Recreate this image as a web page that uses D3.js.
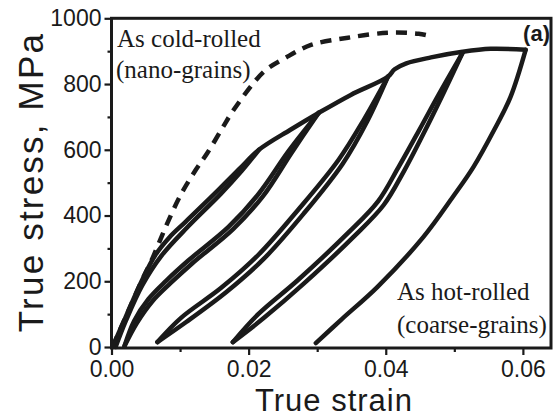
<!DOCTYPE html>
<html>
<head>
<meta charset="utf-8">
<script src="https://cdn.jsdelivr.net/npm/d3@7"></script>
<style>
  body { margin: 0; background: #fff; }
  svg { display: block; }
</style>
</head>
<body>
<div id="chart"><svg width="558" height="417"></svg></div>
<script>
// [strain, stress MPa]
const envelope = [
  [0.00015, 0], [0.0020, 88], [0.0044, 201], [0.0064, 280], [0.0085, 335],
  [0.0108, 381], [0.0156, 478], [0.0188, 545], [0.0215, 600], [0.0261, 661],
  [0.0302, 712], [0.0349, 767], [0.0403, 822], [0.0413, 845], [0.0430, 863],
  [0.0466, 881], [0.0512, 898], [0.0553, 907], [0.0604, 904]
];
const finalUnload = [
  [0.0604, 904], [0.0582, 761], [0.0558, 660], [0.0528, 548], [0.0498, 457],
  [0.0455, 335], [0.0388, 183], [0.0336, 85], [0.0298, 12]
];
const loop1 = [
  [0.0215, 600], [0.0190, 536], [0.0159, 465], [0.0111, 365], [0.0073, 278],
  [0.0045, 188], [0.0021, 80], [0.0006, 0]
];
const loop2a = [
  [0.0019, 3], [0.0037, 73], [0.0060, 140], [0.0086, 194], [0.0118, 255],
  [0.0177, 358], [0.0221, 459], [0.0263, 592], [0.0302, 712]
];
const loop2b = [
  [0.0019, 3], [0.0033, 79], [0.0054, 146], [0.0080, 202], [0.0112, 263],
  [0.0171, 366], [0.0215, 467], [0.0259, 598], [0.0302, 712]
];
const loop3a = [
  [0.0067, 15], [0.0109, 76], [0.0168, 168], [0.0222, 268], [0.0280, 405],
  [0.0337, 557], [0.0373, 687], [0.0403, 822]
];
const loop3b = [
  [0.0067, 15], [0.0101, 88], [0.0160, 180], [0.0214, 280], [0.0272, 417],
  [0.0331, 569], [0.0369, 695], [0.0403, 822]
];
const loop4a = [
  [0.0177, 15], [0.0222, 88], [0.0280, 192], [0.0353, 335], [0.0397, 432],
  [0.0426, 533], [0.0454, 645], [0.0482, 763], [0.0512, 895]
];
const loop4b = [
  [0.0177, 15], [0.0214, 100], [0.0272, 204], [0.0345, 347], [0.0389, 444],
  [0.0418, 545], [0.0448, 657], [0.0478, 771], [0.0512, 895]
];
const coldRolled = [
  [0.00015, 0], [0.0020, 88], [0.0044, 201], [0.0060, 271], [0.0079, 365],
  [0.0101, 463], [0.0123, 539], [0.0140, 591], [0.0162, 667], [0.0178, 721],
  [0.0222, 837], [0.0254, 880], [0.0291, 919], [0.0345, 941], [0.0404, 956],
  [0.0448, 953], [0.0463, 947]
];
const xMajor = [0, 0.02, 0.04, 0.06];
const xMinor = [0.01, 0.03, 0.05];
const yMajor = [0, 200, 400, 600, 800, 1000];
const yMinor = [100, 300, 500, 700, 900];

const svg = d3.select('#chart svg');
const plotLeft = 111.5, plotRight = 551, plotTop = 18.3, plotBottom = 348;

const x = d3.scaleLinear().domain([0, 0.0641]).range([plotLeft, plotRight]);
const y = d3.scaleLinear().domain([-3, 1000]).range([plotBottom, plotTop]);

const line = d3.line()
  .x(d => x(d[0]))
  .y(d => y(d[1]))
  .curve(d3.curveCatmullRom.alpha(0.5));

const gCurves = svg.append('g')
  .attr('fill', 'none')
  .attr('stroke', '#1a1a1a')
  .attr('stroke-width', 4.5)
  .attr('stroke-linejoin', 'round')
  .attr('stroke-linecap', 'round');

[envelope, finalUnload, loop1, loop2a, loop2b, loop3a, loop3b, loop4a, loop4b]
  .forEach(c => gCurves.append('path').attr('d', line(c)));

gCurves.append('path')
  .attr('d', line(coldRolled))
  .attr('stroke-dasharray', '11,8')
  .attr('stroke-linecap', 'butt');

// axes
const sans = 'Liberation Sans, Arial, sans-serif';
function styleAxis(g) {
  g.select('.domain').remove();
  g.selectAll('line').attr('stroke', '#1a1a1a').attr('stroke-width', 2.2);
  g.selectAll('text').attr('font-family', sans).attr('font-size', 23).attr('fill', '#1a1a1a');
}

svg.append('g').attr('transform', `translate(0,${plotBottom})`)
  .call(d3.axisBottom(x).tickValues(xMajor).tickSize(7).tickPadding(6).tickFormat(d3.format('.2f')))
  .call(styleAxis);
svg.append('g').attr('transform', `translate(0,${plotBottom})`)
  .call(d3.axisBottom(x).tickValues(xMinor).tickSize(4).tickFormat(''))
  .call(styleAxis);
svg.append('g').attr('transform', `translate(${plotLeft},0)`)
  .call(d3.axisLeft(y).tickValues(yMajor).tickSize(7).tickPadding(3).tickFormat(d3.format('d')))
  .call(styleAxis);
svg.append('g').attr('transform', `translate(${plotLeft},0)`)
  .call(d3.axisLeft(y).tickValues(yMinor).tickSize(4).tickFormat(''))
  .call(styleAxis);

svg.append('rect')
  .attr('x', plotLeft).attr('y', plotTop)
  .attr('width', plotRight - plotLeft).attr('height', plotBottom - plotTop)
  .attr('fill', 'none').attr('stroke', '#1a1a1a').attr('stroke-width', 3);

// titles
svg.append('text')
  .attr('x', 334).attr('y', 411)
  .attr('text-anchor', 'middle')
  .attr('font-family', sans).attr('font-size', 31).attr('letter-spacing', 1)
  .attr('fill', '#1a1a1a')
  .text('True strain');

svg.append('text')
  .attr('transform', 'translate(43,182) rotate(-90)')
  .attr('text-anchor', 'middle')
  .attr('font-family', sans).attr('font-size', 35).attr('letter-spacing', 2.2)
  .attr('fill', '#1a1a1a')
  .text('True stress, MPa');

// annotations
const serif = 'Liberation Serif, Times New Roman, serif';
const notes = svg.append('g')
  .attr('font-family', serif).attr('font-size', 25).attr('fill', '#1a1a1a');
notes.append('text').attr('x', 117).attr('y', 47).text('As cold-rolled');
notes.append('text').attr('x', 116).attr('y', 78).text('(nano-grains)');
notes.append('text').attr('x', 397).attr('y', 300).text('As hot-rolled');
notes.append('text').attr('x', 397).attr('y', 333).text('(coarse-grains)');

svg.append('text')
  .attr('x', 550).attr('y', 41)
  .attr('text-anchor', 'end')
  .attr('font-family', sans).attr('font-weight', 'bold').attr('font-size', 22)
  .attr('fill', '#1a1a1a')
  .text('(a)');
</script>
</body>
</html>
